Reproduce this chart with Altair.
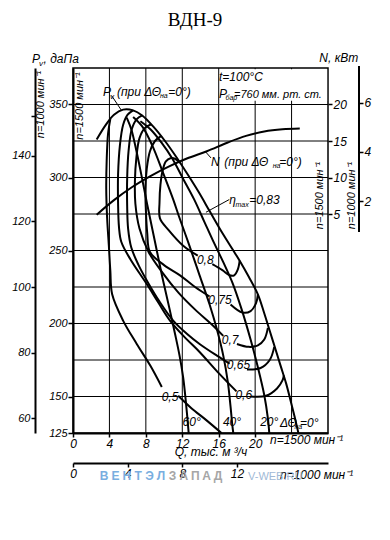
import altair as alt
import pandas as pd

# ---------------- data ----------------
TITLE = "ВДН-9"
RPM_HI, RPM_LO = 1500, 1000
K = RPM_LO / RPM_HI

Q_MAX = 28
PV_MIN, PV_MAX = 125, 375
N_MIN, N_MAX = -25, 25

Q_LABELS = [0, 4, 8, 12, 16, 20]
Q_GRID = [4, 8, 12, 16, 20, 24]
PV_LABELS = [125, 150, 200, 250, 300, 350]
PV_GRID = [150, 175, 200, 225, 250, 275, 300, 325, 350]
PV_LO_TICKS = [60, 80, 100, 120, 140, 152]
N_LABELS = [5, 10, 15, 20]
N_LO_LABELS = [2, 4, 6]
Q_LO_LABELS = [0, 4, 8, 12]

# pressure curves P_v (n=1500) for guide vane angles
P0_Q = [2.6, 3.6, 4.5, 5.5, 6.6, 7.6, 8.8, 10.1, 11.4, 12.6, 13.8, 15.0, 16.3, 17.5, 18.3, 19.3, 20.3, 21.0, 21.6, 22.2, 22.8, 23.4, 23.9, 24.3, 24.6, 24.75]
P0_PV = [326, 336, 343, 346.5, 346, 342.5, 335, 325, 313.5, 302, 290, 277, 263, 251, 243, 232, 220, 207, 195, 183, 171, 159, 147, 137, 129, 125]
P20_Q = [7.4, 8.5, 9.7, 10.9, 12.1, 13.3, 14.4, 15.5, 16.5, 17.5, 18.5, 19.5, 20.3, 21.0, 21.4, 21.55]
P20_PV = [338.5, 333, 324, 313, 299, 285, 270, 255, 242, 228, 210, 189, 170, 151, 135, 125]
P40_Q = [6.6, 7.6, 8.7, 9.9, 11.0, 11.6, 12.8, 13.9, 15.0, 15.8, 16.5, 17.0, 17.3, 17.5, 17.6]
P40_PV = [341.5, 335, 322, 303, 285, 274, 253, 233, 213, 196, 178, 160, 143, 130, 125]
P60_Q = [5.9, 6.4, 6.9, 7.5, 8.2, 9.0, 9.8, 10.6, 11.2, 11.7, 12.1, 12.35, 12.55, 12.7]
P60_PV = [341, 333, 320, 302, 280, 256, 232, 210, 193, 178, 163, 149, 136, 125]

# efficiency iso-lines (two segments each, broken at the label)
E50_Q = [[4.1, 3.85, 3.7, 3.65, 3.75, 3.95, 4.1, 4.3, 5.5, 7.0, 8.5, 9.75], [11.55, 13.0, 14.6, 16.3]]
E50_PV = [[340, 330, 312, 292, 272, 252, 236, 220, 202, 186, 171, 156.5], [150.5, 142, 134, 125]]
E60_Q = [[6.6, 6.0, 5.5, 5.15, 4.95, 4.95, 5.05, 5.3, 6.3, 8.1, 9.4, 10.65, 12.2, 13.9, 16.0, 17.95], [19.55, 21.2, 22.4, 23.0, 23.15]]
E60_PV = [[346, 343, 336, 322, 302, 282, 266, 256, 244, 227, 214, 202, 191, 180.5, 166, 153.5], [150, 150.5, 155.5, 161, 164.5]]
E65_Q = [[7.6, 7.0, 6.45, 6.1, 5.95, 5.95, 6.05, 6.4, 7.2, 8.1, 9.5, 11.0, 12.5, 13.9, 15.8, 17.2], [19.1, 20.6, 21.6, 22.1]]
E65_PV = [[342.5, 340, 333, 318, 300, 280, 265, 252, 240, 229.5, 215, 202, 193, 186, 178, 172.5], [168.5, 169.5, 175, 184]]
E70_Q = [[8.6, 7.9, 7.3, 6.95, 6.8, 6.85, 7.3, 8.3, 9.8, 11.6, 13.5, 15.3, 16.5], [18.0, 19.3, 20.3, 21.0, 21.4]]
E70_PV = [[336.5, 334, 327, 313, 298, 282, 265, 249, 235, 221, 209, 199, 191.5], [186, 184, 185, 189, 197]]
E75_Q = [[9.7, 9.0, 8.45, 8.1, 7.95, 8.0, 8.15, 8.45, 10.0, 11.75, 13.4, 15.0], [17.3, 18.6, 19.5, 20.1, 20.3]]
E75_PV = [[328.5, 325, 318, 306, 292, 278, 262, 249, 240, 233, 225, 218.5], [213, 207.5, 208.5, 214, 220]]
E80_Q = [[11.75, 11.3, 10.7, 10.2, 9.85, 9.6, 9.5, 9.55, 10.5, 12.1, 13.7], [15.3, 16.4, 17.2, 17.7, 18.1, 18.3]]
E80_PV = [[310, 312.5, 313.2, 311, 305, 295, 283, 272, 264, 253.3, 246.5], [240.6, 236.5, 233, 233, 237, 243]]

# power curve N (kW, n=1500)
N_Q = [2.6, 4.5, 6.5, 8.5, 10.5, 12.5, 14.7, 17.0, 19.0, 21.0, 23.0, 24.9]
N_KW = [4.9, 6.9, 8.7, 10.2, 11.5, 12.6, 13.6, 14.8, 15.7, 16.3, 16.6, 16.7]

# curve labels (data coordinates)
ETA_TEXT = ["0,8", "0,75", "0,7", "0,65", "0,6", "0,5"]
ETA_Q = [14.52, 16.14, 17.26, 18.17, 18.75, 10.65]
ETA_PV = [243.5, 215.8, 188.7, 171.4, 150.8, 149.5]
ANG_TEXT = ["60°", "40°", "20°"]
ANG_Q = [13.03, 17.46, 21.55]
ANG_PV = [132.2, 132.2, 132.2]

# leader lines (data coordinates)
LEAD_Q = [[4.24, 5.34], [15.15, 14.5], [17.16, 14.6]]
LEAD_PV = [[356.1, 345.8], [313.4, 318.0], [284.9, 276.2]]

# white box behind the operating conditions
BOX_Q = [16.15, 27.9]
BOX_PV = [352.6, 374.2]

# watermark
WM_BLUE = ["В", "Е", "Н", "Т", "Э", "Л"]
WM_GRAY = ["З", "А", "П", "А", "Д"]

# ---------------- build ----------------
SANS = "Liberation Sans Narrow, Liberation Sans, Arial, sans-serif"
SERIF = "Liberation Serif, Times New Roman, serif"
W, H = 255, 365

XS = alt.Scale(domain=[0, Q_MAX], nice=False, zero=False)
YS = alt.Scale(domain=[PV_MIN, PV_MAX], nice=False, zero=False)
X_AXIS = alt.Axis(values=Q_LABELS, title=None, grid=False, tickSize=4, labelPadding=1,
                  domainWidth=2, labelFlush=False, labelOverlap=False, labelFontSize=12)
Y_AXIS = alt.Axis(values=PV_LABELS, title=None, grid=False, tickSize=5, labelPadding=1,
                  domainWidth=2, labelFlush=False, labelOverlap=False, labelFontSize=11)


def X(f):
    return alt.X(f, type="quantitative", scale=XS, axis=X_AXIS)


def Y(f):
    return alt.Y(f, type="quantitative", scale=YS, axis=Y_AXIS)


rows = []
for name, qs, ps in [("p0", P0_Q, P0_PV), ("p20", P20_Q, P20_PV), ("p40", P40_Q, P40_PV), ("p60", P60_Q, P60_PV)]:
    for i, (q, p) in enumerate(zip(qs, ps)):
        rows.append({"key": name, "i": i, "Q": q, "Pv": p})
for name, qss, pss in [("e50", E50_Q, E50_PV), ("e60", E60_Q, E60_PV), ("e65", E65_Q, E65_PV),
                       ("e70", E70_Q, E70_PV), ("e75", E75_Q, E75_PV), ("e80", E80_Q, E80_PV)]:
    for s, (qs, ps) in enumerate(zip(qss, pss)):
        for i, (q, p) in enumerate(zip(qs, ps)):
            rows.append({"key": f"{name}_{s}", "i": i, "Q": q, "Pv": p})
curve_df = pd.DataFrame(rows)

lead_rows = []
for k, (qs, ps) in enumerate(zip(LEAD_Q, LEAD_PV)):
    for i, (q, p) in enumerate(zip(qs, ps)):
        lead_rows.append({"key": k, "i": i, "Q": q, "Pv": p})
lead_df = pd.DataFrame(lead_rows)

vgrid = alt.Chart(pd.DataFrame({"Q": Q_GRID})).mark_rule(color="black", strokeWidth=1).encode(x=X("Q"))
hgrid = alt.Chart(pd.DataFrame({"Pv": PV_GRID})).mark_rule(color="black", strokeWidth=1).encode(y=Y("Pv"))
box = alt.Chart(pd.DataFrame({"q1": [BOX_Q[0]], "q2": [BOX_Q[1]], "p1": [BOX_PV[0]], "p2": [BOX_PV[1]]})).mark_rect(
    color="white").encode(x=X("q1"), x2="q2", y=Y("p1"), y2="p2")
curves = alt.Chart(curve_df).mark_line(color="black", strokeWidth=2, interpolate="catmull-rom").encode(
    x=X("Q"), y=Y("Pv"), detail="key:N", order="i:Q")
leads = alt.Chart(lead_df).mark_line(color="black", strokeWidth=1).encode(
    x=X("Q"), y=Y("Pv"), detail="key:N", order="i:Q")
eta_lab = alt.Chart(pd.DataFrame({"Q": ETA_Q, "Pv": ETA_PV, "t": ETA_TEXT})).mark_text(
    font=SANS, fontStyle="italic", fontSize=12, align="center", baseline="middle", color="black").encode(
    x=X("Q"), y=Y("Pv"), text="t:N")
ang_lab = alt.Chart(pd.DataFrame({"Q": ANG_Q, "Pv": ANG_PV, "t": ANG_TEXT})).mark_text(
    font=SANS, fontStyle="italic", fontSize=12, align="center", baseline="middle", color="black").encode(
    x=X("Q"), y=Y("Pv"), text="t:N")

OX, OY = 73, 68  # page position of the plot origin


def txt(s, px, py, size=12, angle=0, align="left", baseline="alphabetic", font=SANS, style="italic",
        color="black", weight="normal"):
    return alt.Chart(pd.DataFrame({"t": [s]})).mark_text(
        font=font, fontStyle=style, fontSize=size, angle=angle, align=align, baseline=baseline,
        color=color, fontWeight=weight).encode(x=alt.value(px - OX), y=alt.value(py - OY), text="t:N")


# watermark letters, evenly spaced
wm_df = pd.DataFrame({
    "t": WM_BLUE + WM_GRAY,
    "k": list(range(len(WM_BLUE) + len(WM_GRAY))),
    "c": ["b"] * len(WM_BLUE) + ["g"] * len(WM_GRAY),
})
watermark = alt.Chart(wm_df).transform_calculate(
    px="104 - 73 + datum.k * 11.4"
).mark_text(font="Liberation Sans, sans-serif", fontSize=12, fontWeight="bold", align="center",
            baseline="alphabetic").encode(
    x=alt.X("px:Q", scale=None), y=alt.value(480 - OY), text="t:N",
    color=alt.Color("c:N", scale=alt.Scale(domain=["b", "g"], range=["#79aee0", "#a6a6a6"]), legend=None))

texts = [
    txt(TITLE, 195, 26, size=19, align="center", baseline="alphabetic", font=SERIF, style="normal"),
    txt("P", 32, 63.3), txt("v", 39, 66, size=8), txt(", даПа", 43.5, 63.3),
    txt("N, кВт", 319.3, 61.7),
    txt("n=1000 мин⁻¹", 41, 104.5, size=11, angle=270, align="center", baseline="middle"),
    txt("n=1500 мин⁻¹", 80, 106, size=11, angle=270, align="center", baseline="middle"),
    txt("n=1500 мин⁻¹", 320, 195.5, size=11, angle=270, align="center", baseline="middle"),
    txt("n=1000 мин⁻¹", 352, 195.5, size=11, angle=270, align="center", baseline="middle"),
    txt("t=100°C", 219, 80.7),
    txt("P", 219, 97.5), txt("бар", 225.5, 100, size=7), txt("=760 мм. рт. ст.", 234, 97.5, size=11),
    txt("P", 103, 95.7), txt("v", 110, 98.5, size=8), txt("(при ΔΘ", 117, 95.7),
    txt("на", 160, 98, size=7), txt("=0°)", 168.3, 95.7),
    txt("N", 211, 165.7), txt("(при ΔΘ", 224.3, 165.7), txt("на", 272.7, 168, size=7), txt("=0°)", 279.3, 165.7),
    txt("η", 229.3, 204), txt("max", 235.5, 206.5, size=7), txt("=0,83", 249.3, 204),
    txt("ΔΘ", 280, 426.5), txt("на", 294.5, 428.5, size=7), txt("=0°", 300, 426.5),
    txt("n=1500 мин⁻¹", 270, 444),
    txt("Q, тыс. м ³/ч", 211, 456, align="center"),
    txt("n=1000 мин⁻¹", 280, 479),
    txt("V-WEB.RU", 248, 480, size=11, style="normal", color="#9fb9d6", font="Liberation Sans, sans-serif"),
]

inner = alt.layer(vgrid, hgrid, box, curves, leads, eta_lab, ang_lab, watermark, *texts)

# power curve on its own (right) scale
n_df = pd.DataFrame({"Q": N_Q, "N": N_KW, "i": list(range(len(N_Q)))})
n_layer = alt.Chart(n_df).mark_line(color="black", strokeWidth=2, interpolate="catmull-rom").encode(
    x=alt.X("Q:Q", scale=XS, axis=None),
    y=alt.Y("N:Q", scale=alt.Scale(domain=[N_MIN, N_MAX], nice=False, zero=False),
            axis=alt.Axis(orient="right", values=N_LABELS, title=None, domain=False, grid=False, tickSize=4,
                          labelPadding=1, labelFontSize=12, labelFlush=False, labelOverlap=False)),
    order="i:Q")

# secondary pressure axis for n=1000
pv_lo = alt.Chart(pd.DataFrame({"v": [PV_LO_TICKS[0]]})).mark_point(opacity=0).encode(
    y=alt.Y("v:Q", scale=alt.Scale(domain=[PV_MIN * K * K, PV_MAX * K * K], nice=False, zero=False),
            axis=alt.Axis(orient="left", offset=38, values=PV_LO_TICKS, title=None, grid=False, tickSize=4,
                          labelPadding=1, domainWidth=2, labelFontSize=11, labelFlush=False, labelOverlap=False,
                          labelExpr="datum.value > 145 ? '' : datum.label")))

# secondary power axis for n=1000
NK = K ** 3
n_lo = alt.Chart(pd.DataFrame({"a": [0.75], "b": [N_MAX * NK + 0.08]})).mark_rule(
    color="black", strokeWidth=2).encode(
    x=alt.value(286),
    y=alt.Y("a:Q", scale=alt.Scale(domain=[N_MIN * NK, N_MAX * NK], nice=False, zero=False),
            axis=alt.Axis(orient="right", offset=31, values=N_LO_LABELS, title=None, domain=False, grid=False,
                          tickSize=4, labelPadding=1, labelFontSize=12, labelFlush=False, labelOverlap=False)),
    y2="b:Q")

# secondary flow axis for n=1000
q_lo = alt.Chart(pd.DataFrame({"v": [Q_LO_LABELS[0]]})).mark_point(opacity=0).encode(
    x=alt.X("v:Q", scale=alt.Scale(domain=[0, Q_MAX * K], nice=False, zero=False),
            axis=alt.Axis(orient="bottom", offset=30, values=Q_LO_LABELS, title=None, grid=False, tickSize=4,
                          labelPadding=1, domainWidth=2, labelFontSize=12, labelFlush=False, labelOverlap=False)))

chart = alt.layer(inner, n_layer, pv_lo, n_lo, q_lo).resolve_scale(
    x="independent", y="independent"
).properties(
    width=W, height=H,
    autosize=alt.AutoSizeParams(type="none"),
    padding={"left": 65, "top": 60, "right": 46, "bottom": 60},
    background="white",
).configure_view(stroke="black", strokeWidth=1.5).configure_axis(
    labelFont=SANS, labelFontStyle="italic", labelColor="black", tickColor="black", domainColor="black",
    tickWidth=1.5,
)

chart.save("out.html", embed_options={"renderer": "svg", "actions": False})
